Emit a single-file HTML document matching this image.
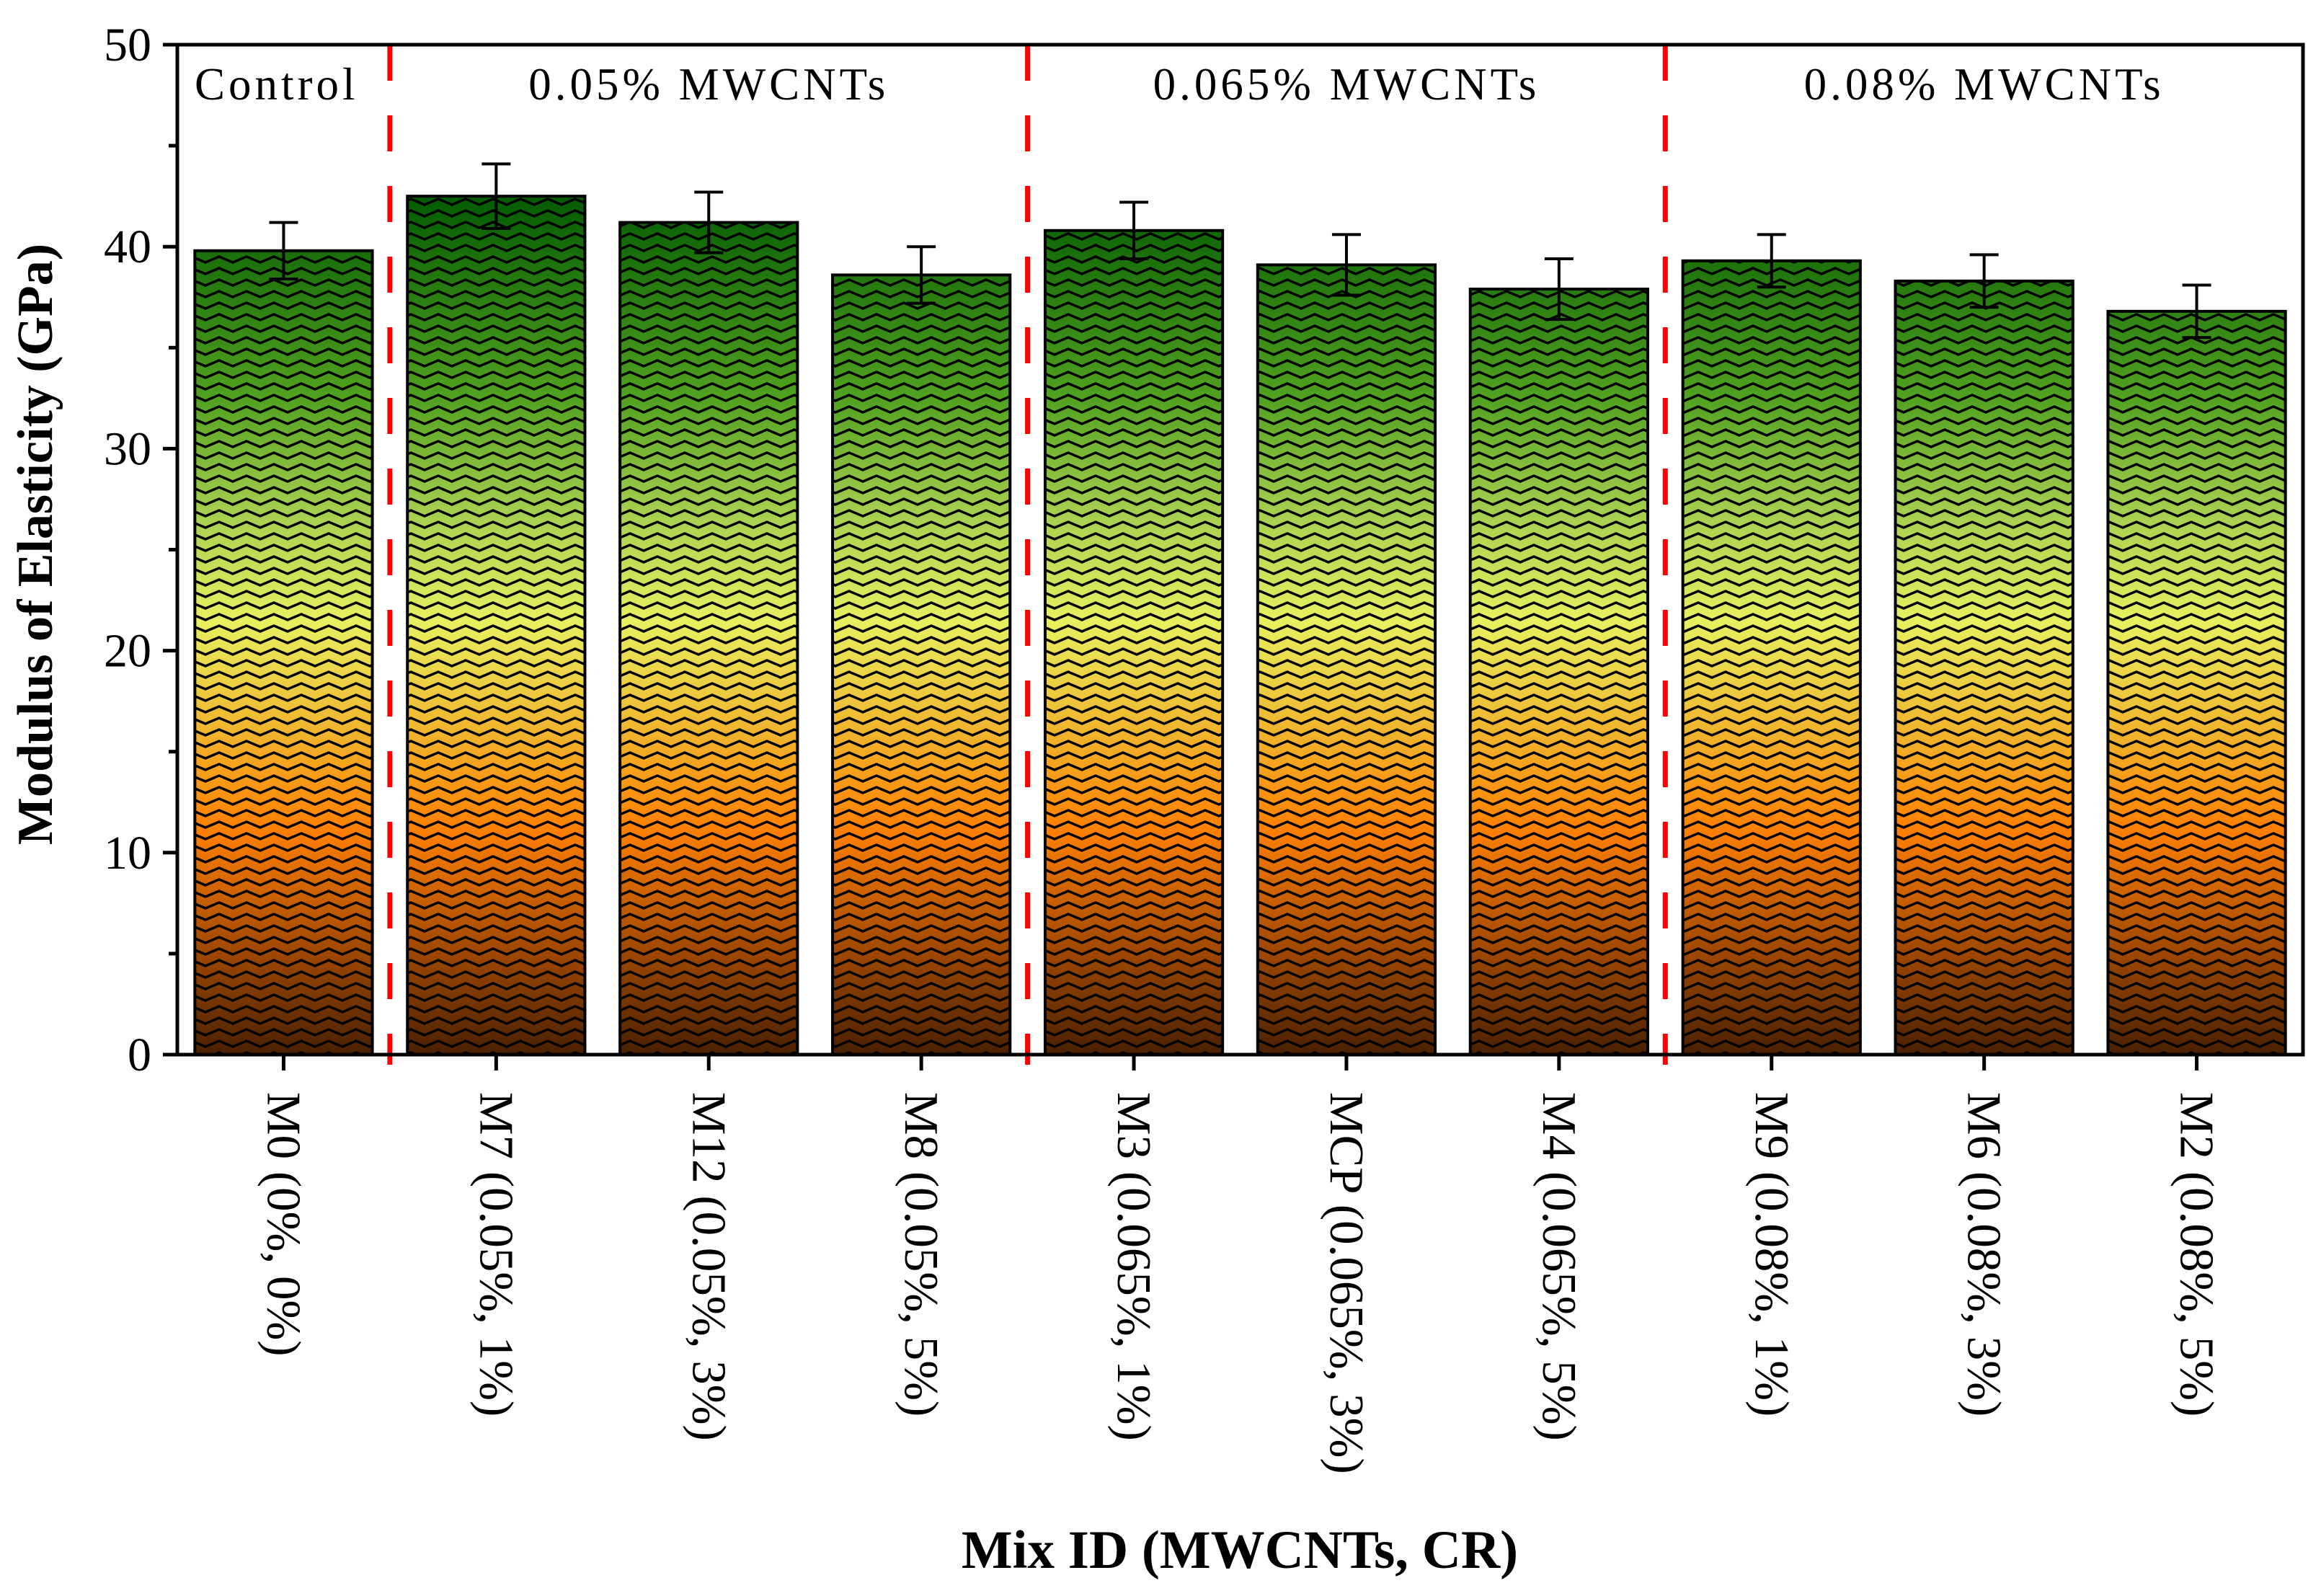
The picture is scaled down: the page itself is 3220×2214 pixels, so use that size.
<!DOCTYPE html>
<html><head><meta charset="utf-8"><style>
html,body{margin:0;padding:0;background:#fff;}
svg{display:block;font-family:"Liberation Serif","Times New Roman",serif;}
</style></head><body>
<svg id="chart" width="3220" height="2214" viewBox="0 0 3220 2214" xmlns="http://www.w3.org/2000/svg">
<defs>
<linearGradient id="grad" gradientUnits="userSpaceOnUse" x1="0" y1="1463" x2="0" y2="260">
<stop offset="0" stop-color="#4a2000"/>
<stop offset="0.12" stop-color="#a04800"/>
<stop offset="0.26" stop-color="#ff8000"/>
<stop offset="0.38" stop-color="#f0b830"/>
<stop offset="0.5" stop-color="#e8f060"/>
<stop offset="0.62" stop-color="#a8d050"/>
<stop offset="0.76" stop-color="#50a020"/>
<stop offset="1" stop-color="#005800"/>
</linearGradient>
<pattern id="zig" patternUnits="userSpaceOnUse" width="38" height="16">
<path d="M-19,12 L0,4 L19,12 L38,4 L57,12" fill="none" stroke="#000" stroke-width="3.5"/>
</pattern>
</defs>
<g id="plot"></g>
</svg>
<script>
const categories=["M0 (0%, 0%)","M7 (0.05%, 1%)","M12 (0.05%, 3%)","M8 (0.05%, 5%)","M3 (0.065%, 1%)","MCP (0.065%, 3%)","M4 (0.065%, 5%)","M9 (0.08%, 1%)","M6 (0.08%, 3%)","M2 (0.08%, 5%)"];
const values=[39.8,42.5,41.2,38.6,40.8,39.1,37.9,39.3,38.3,36.8];
const errors=[1.4,1.6,1.5,1.4,1.4,1.5,1.5,1.3,1.3,1.3];
const yTicks=[0,10,20,30,40,50];
const groupLabels=["Control","0.05% MWCNTs","0.065% MWCNTs","0.08% MWCNTs"];
const groupStart=[0,1,4,7];
const groupEnd=[0,3,6,9];

const L=246,R=3195,T=62,B=1463,yMax=50;
const band=(R-L)/categories.length;
const xc=i=>L+band*(i+0.5);
const y=v=>B-(v/yMax)*(B-T);
const NS="http://www.w3.org/2000/svg";
const g=document.getElementById('plot');
function mk(tag,attrs,parent){const e=document.createElementNS(NS,tag);for(const k in attrs)e.setAttribute(k,attrs[k]);(parent||g).appendChild(e);return e;}

values.forEach((v,i)=>{
  const w=band*0.835;
  const r=mk('rect',{x:xc(i)-w/2,y:y(v),width:w,height:B-y(v),fill:'url(#grad)'});
  
  
  const p=mk('rect',{x:xc(i)-w/2,y:y(v),width:w,height:B-y(v),fill:'url(#zig)',stroke:'#000','stroke-width':4});
  
  
  const eb=mk('path',{d:`M${xc(i)},${y(v+errors[i])} V${y(v-errors[i])} M${xc(i)-20},${y(v+errors[i])} H${xc(i)+20} M${xc(i)-20},${y(v-errors[i])} H${xc(i)+20}`,stroke:'#000','stroke-width':4,fill:'none'});
  
  
});

groupStart.slice(1).forEach(s=>{
  const x=L+band*s;
  const d=mk('line',{x1:x,y1:T,x2:x,y2:B+14,stroke:'#ff0000','stroke-width':7,'stroke-dasharray':'50,48'});
  
  
});

groupLabels.forEach((t,k)=>{
  let x,anchor='middle';
  if(k===0){x=L+24;anchor='start';}
  else x=(xc(groupStart[k])+xc(groupEnd[k]))/2;
  const e=mk('text',{x:x,y:138,'font-size':63,'text-anchor':anchor,'letter-spacing':'5'});
  e.textContent=t;
  
  
});

const fr=mk('rect',{x:L,y:T,width:R-L,height:B-T,fill:'none',stroke:'#000','stroke-width':5});



yTicks.forEach(v=>{
  const t=mk('line',{x1:L-20,x2:L,y1:y(v),y2:y(v),stroke:'#000','stroke-width':5});
  
  
  const lb=mk('text',{x:L-36,y:y(v)+22,'font-size':66,'text-anchor':'end'});
  lb.textContent=v;
  
  
  if(v<yMax){
    const m=mk('line',{x1:L-12,x2:L,y1:y(v+5),y2:y(v+5),stroke:'#000','stroke-width':5});
    
    
  }
});

categories.forEach((c,i)=>{
  const t=mk('line',{x1:xc(i),x2:xc(i),y1:B,y2:B+22,stroke:'#000','stroke-width':5});
  
  
  const lb=mk('text',{x:0,y:0,'font-size':67,transform:`translate(${xc(i)-22},1515) rotate(90)`});
  lb.textContent=c;
  
  
});

const yt=mk('text',{x:0,y:0,'font-size':70,'font-weight':'bold','text-anchor':'middle',transform:`translate(72,755) rotate(-90)`});
yt.textContent='Modulus of Elasticity (GPa)';



const xt=mk('text',{x:1720,y:2175,'font-size':75,'font-weight':'bold','text-anchor':'middle'});
xt.textContent='Mix ID (MWCNTs, CR)';


</script>
</body></html>
